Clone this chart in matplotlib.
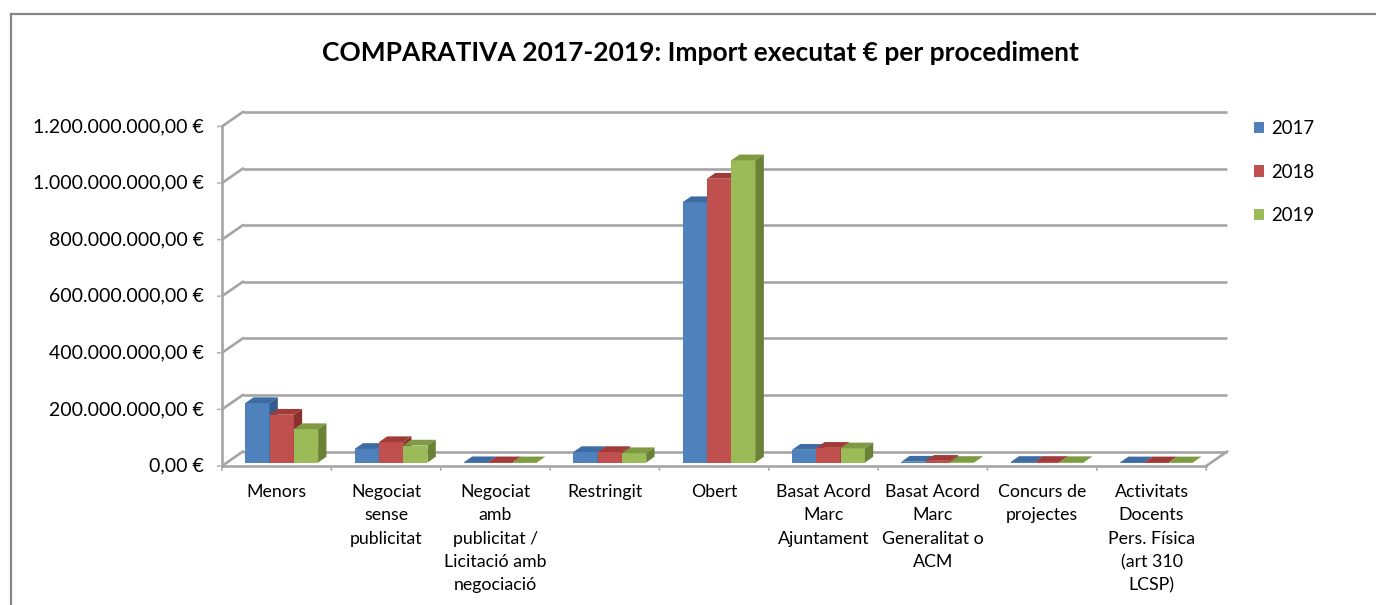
import matplotlib
matplotlib.use("Agg")
import matplotlib.pyplot as plt
from matplotlib.patches import Polygon, Patch
from matplotlib.lines import Line2D

plt.rcParams['font.family'] = ['Lato', 'DejaVu Sans']

# ---------------- data ----------------
categories = ['Menors', 'Negociat\nsense\npublicitat',
              'Negociat\namb\npublicitat /\nLicitació amb\nnegociació',
              'Restringit', 'Obert', 'Basat Acord\nMarc\nAjuntament',
              'Basat Acord\nMarc\nGeneralitat o\nACM', 'Concurs de\nprojectes',
              'Activitats\nDocents\nPers. Física\n(art 310\nLCSP)']
years = ['2017', '2018', '2019']
v2017 = [210e6, 48e6, 1.0e6, 37e6, 920e6, 45e6, 3e6, 2e6, 0.5e6]
v2018 = [169e6, 72e6, 0.8e6, 37e6, 1003e6, 52e6, 6e6, 2e6, 0.5e6]
v2019 = [118e6, 60e6, 0.6e6, 33e6, 1068e6, 50e6, 2e6, 1.5e6, 0.5e6]
yticks = [0, 200e6, 400e6, 600e6, 800e6, 1000e6, 1200e6]
title = 'COMPARATIVA 2017-2019: Import executat € per procediment'

series = [v2017, v2018, v2019]
front_col = ['#4F81BD', '#C0504D', '#9BBB59']
top_col = ['#3D6CA3', '#A03B38', '#7E9B43']
side_col = ['#335C8C', '#8A302E', '#6A8235']

W, H = 1376, 605
fig = plt.figure(figsize=(W / 100, H / 100), dpi=100)

# pixel geometry of plot area
x0px, x1px = 222, 1227
ybot, ytop = 466, 112
ax = fig.add_axes([x0px / W, 1 - ybot / H, (x1px - x0px) / W, (ybot - ytop) / H])
ncat = len(categories)
DX = 0.19          # floor depth in category units
DY = 51e6          # floor depth in value units
ax.set_xlim(0, ncat + DX)
ax.set_ylim(0, yticks[-1] + DY)
ax.axis('off')

grid_c = '#A5A5A5'
lw = 1.9
# back wall gridlines + left wall slants
for t in yticks:
    ax.plot([DX, ncat + DX], [t + DY, t + DY], color=grid_c, lw=lw, zorder=1,
            clip_on=False, solid_capstyle='butt')
    ax.plot([0, DX], [t, t + DY], color=grid_c, lw=lw, zorder=1, clip_on=False)
    # small tick left of axis
    ax.annotate('', xy=(0, t), xytext=(-5, 0), textcoords='offset points',
                arrowprops=dict(arrowstyle='-', color=grid_c, lw=1.2))
    lab = f"{t:,.2f} €".replace(',', 'X').replace('.', ',').replace('X', '.')
    ax.annotate(lab, xy=(0, t), xytext=(-13, 0), textcoords='offset points',
                ha='right', va='center', fontsize=14, color='#000000')
# vertical axis line
ax.plot([0, 0], [0, yticks[-1]], color=grid_c, lw=lw, zorder=1, clip_on=False)
# floor edges
ax.plot([0, ncat], [0, 0], color=grid_c, lw=lw, zorder=5, clip_on=False)
ax.plot([ncat, ncat + DX], [0, DY], color=grid_c, lw=lw, zorder=5, clip_on=False)
for i in range(ncat + 1):
    ax.annotate('', xy=(i, 0), xytext=(0, -5), textcoords='offset points',
                arrowprops=dict(arrowstyle='-', color=grid_c, lw=1.2))

# bars
nser = len(series)
bw = 1 / (nser + 1.5)
gap = (1 - nser * bw) / 2
sx, sy = 0.24 * DX, 0.24 * DY
bdx, bdy = 0.40 * DX, 0.40 * DY
z = 3
for i in range(ncat):
    for s in range(nser):
        v = series[s][i]
        xl = i + gap + s * bw + sx
        xr = xl + bw
        yb = sy
        yt = v + sy
        ax.add_patch(Polygon([(xl, yb), (xr, yb), (xr, yt), (xl, yt)],
                             closed=True, facecolor=front_col[s], edgecolor='none', zorder=z))
        ax.add_patch(Polygon([(xl, yt), (xr, yt), (xr + bdx, yt + bdy), (xl + bdx, yt + bdy)],
                             closed=True, facecolor=top_col[s], edgecolor='none', zorder=z))
        ax.add_patch(Polygon([(xr, yb), (xr, yt), (xr + bdx, yt + bdy), (xr + bdx, yb + bdy)],
                             closed=True, facecolor=side_col[s], edgecolor='none', zorder=z))
        z += 1

# category labels
for i, c in enumerate(categories):
    ax.annotate(c, xy=(i + 0.5, 0), xytext=(0, -13), textcoords='offset points',
                ha='center', va='top', fontsize=12.8, linespacing=1.56)

# legend
handles = [Patch(facecolor=front_col[s], edgecolor='none', label=years[s]) for s in range(nser)]
fig.legend(handles=handles, loc='upper left', bbox_to_anchor=(1254 / W, 1 - 120 / H),
           frameon=False, fontsize=13.4, handlelength=0.55, handleheight=0.55,
           handletextpad=0.35, labelspacing=1.43, borderaxespad=0, borderpad=0)

# title
fig.text(700 / W, 1 - 53 / H, title, ha='center', va='center', fontsize=19,
         fontweight='bold')

# outer border
fig.add_artist(Line2D([11.5 / W, 1], [1 - 14 / H, 1 - 14 / H], transform=fig.transFigure,
                      color='#868686', lw=1.6))
fig.add_artist(Line2D([11.5 / W, 11.5 / W], [1 - 14 / H, 0], transform=fig.transFigure,
                      color='#868686', lw=1.6))

fig.savefig('out.png', dpi=100)
